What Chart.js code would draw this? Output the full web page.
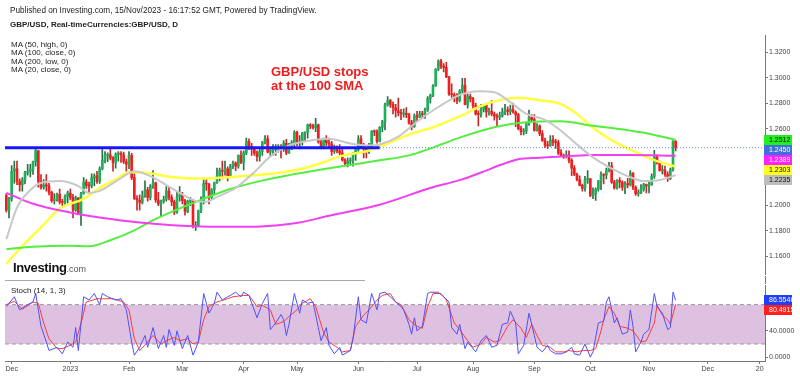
<!doctype html>
<html lang="en">
<head>
<meta charset="utf-8">
<title>GBP/USD daily</title>
<script src="https://cdn.jsdelivr.net/npm/chart.js"></script>
<style>
  body { margin: 0; background: #fff; font-family: "Liberation Sans", Arial, sans-serif; }
  #wrap { position: relative; width: 800px; height: 376px; overflow: hidden; background: #fff; }
  canvas { position: absolute; left: 0; }
  .t { position: absolute; white-space: nowrap; color: #222; line-height: 10px; }
</style>
</head>
<body>
<div id="wrap">
  <canvas id="priceChart" width="800" height="280" style="top:0"></canvas>
  <canvas id="stochChart" width="800" height="96" style="top:280px"></canvas>

  <div class="t" style="left:10px;top:6px;font-size:8.2px">Published on Investing.com, 15/Nov/2023 - 16:17:52 GMT, Powered by TradingView.</div>
  <div class="t" style="left:10px;top:20px;font-size:8px;font-weight:bold">GBP/USD, Real-timeCurrencies:GBP/USD, D</div>
  <div class="t" style="left:11px;top:41px;font-size:8px;line-height:8.4px">MA (50, high, 0)<br>MA (100, close, 0)<br>MA (200, low, 0)<br>MA (20, close, 0)</div>
  <div class="t" style="left:271px;top:65px;font-size:13px;line-height:14.4px;font-weight:bold;color:#f21b1b">GBP/USD stops<br>at the 100 SMA</div>
  <div class="t" style="left:13px;top:261px;line-height:12px"><span style="font-size:13px;font-weight:bold;letter-spacing:-0.4px;color:#111">Investing</span><span style="font-size:9px;color:#555">.com</span></div>
  <div class="t" style="left:11px;top:286px;font-size:8px">Stoch (14, 1, 3)</div>
  <div style="position:absolute;left:5px;top:280px;width:360px;height:1px;background:#aaa"></div>
  <div style="position:absolute;left:765px;top:276px;width:1px;height:8px;background:#777"></div>
</div>

<script>
// daily candles, 29 Nov 2022 .. 15 Nov 2023 (bar index 0..251)
const opens = [
  1.2075,1.1960,
  1.2050,1.2265,1.2285,1.2185,1.2160,1.2200,1.2255,1.2265,1.2280,1.2340,1.2425,1.2185,1.2140,1.2155,1.2150,1.2100,1.2035,1.2045,1.2085,1.2025,1.2020,1.2070,
  1.2095,1.2060,1.1960,1.2055,1.1935,1.2090,1.2180,1.2155,1.2150,1.2215,1.2230,1.2185,1.2285,1.2350,1.2390,1.2395,1.2370,1.2335,1.2400,1.2405,1.2395,1.2340,
  1.2320,1.2390,1.2215,1.2050,1.2040,1.2020,1.2070,1.2120,1.2060,1.2150,1.2175,1.2040,1.2010,1.2030,1.2045,1.2110,1.2060,1.2025,1.1945,1.2065,
  1.2080,1.2035,1.1950,1.2030,1.2035,1.1835,1.1840,1.1955,1.2035,1.2170,1.2165,1.2060,1.2120,1.2175,1.2230,1.2270,1.2265,1.2285,1.2230,1.2305,1.2330,1.2305,1.2390,
  1.2335,1.2410,1.2500,1.2460,1.2440,1.2410,1.2380,1.2420,1.2490,1.2520,1.2415,1.2430,1.2435,1.2440,1.2445,1.2440,1.2485,1.2410,1.2470,1.2490,
  1.2570,1.2490,1.2495,1.2565,1.2570,1.2630,1.2620,1.2610,1.2630,1.2495,1.2445,1.2510,1.2490,1.2480,1.2420,1.2445,1.2425,1.2410,1.2355,1.2325,1.2345,1.2350,1.2395,
  1.2435,1.2520,1.2450,1.2440,1.2430,1.2475,1.2580,1.2575,1.2500,1.2610,1.2650,1.2785,1.2820,1.2790,1.2765,1.2740,1.2725,1.2715,1.2720,1.2710,1.2645,1.2615,
  1.2700,1.2690,1.2715,1.2710,1.2745,1.2835,1.2860,1.2935,1.3065,1.3130,1.3090,1.3080,1.3005,1.2870,1.2865,1.2855,1.2820,1.2895,1.2940,1.2790,1.2850,
  1.2835,1.2780,1.2715,1.2710,1.2750,1.2785,1.2730,1.2735,1.2715,1.2700,1.2690,1.2700,1.2730,1.2745,1.2735,1.2750,1.2730,1.2710,1.2600,1.2575,1.2580,1.2640,1.2690,
  1.2670,1.2585,1.2620,1.2560,1.2505,1.2470,1.2465,1.2510,1.2495,1.2490,1.2410,1.2385,1.2380,1.2395,1.2350,1.2290,1.2240,1.2200,1.2155,1.2130,1.2200,
  1.2205,1.2075,1.2085,1.2125,1.2190,1.2240,1.2235,1.2275,1.2305,1.2180,1.2135,1.2195,1.2180,1.2140,1.2165,1.2160,1.2250,1.2140,1.2090,1.2100,1.2125,1.2160,
  1.2150,1.2160,1.2225,1.2380,1.2340,1.2270,1.2275,1.2240,1.2210,1.2280,1.2500
];
const highs = [
  1.2090,1.2060,
  1.2310,1.2345,1.2345,1.2205,1.2215,1.2265,1.2320,1.2320,1.2345,1.2446,1.2430,1.2240,1.2200,1.2240,1.2170,1.2110,1.2090,1.2095,1.2125,1.2045,1.2080,1.2110,
  1.2125,1.2085,1.2070,1.2060,1.2100,1.2215,1.2200,1.2180,1.2245,1.2245,1.2265,1.2300,1.2435,1.2420,1.2410,1.2450,1.2380,1.2410,1.2420,1.2420,1.2415,1.2360,
  1.2420,1.2405,1.2265,1.2075,1.2080,1.2110,1.2190,1.2140,1.2160,1.2270,1.2180,1.2100,1.2040,1.2070,1.2145,1.2140,1.2080,1.2040,1.2100,1.2145,
  1.2100,1.2045,1.2040,1.2060,1.2045,1.1870,1.1960,1.2065,1.2205,1.2205,1.2170,1.2130,1.2180,1.2290,1.2290,1.2345,1.2345,1.2300,1.2320,1.2345,1.2340,1.2395,1.2425,
  1.2425,1.2525,1.2520,1.2485,1.2450,1.2425,1.2440,1.2500,1.2545,1.2545,1.2440,1.2475,1.2475,1.2475,1.2475,1.2505,1.2515,1.2485,1.2505,1.2585,
  1.2580,1.2545,1.2570,1.2575,1.2635,1.2640,1.2635,1.2680,1.2635,1.2510,1.2525,1.2545,1.2525,1.2500,1.2470,1.2465,1.2475,1.2445,1.2365,1.2370,1.2370,1.2410,1.2445,
  1.2545,1.2545,1.2485,1.2450,1.2485,1.2585,1.2590,1.2590,1.2615,1.2665,1.2800,1.2850,1.2830,1.2810,1.2790,1.2840,1.2750,1.2755,1.2765,1.2720,1.2665,1.2715,
  1.2735,1.2735,1.2735,1.2760,1.2850,1.2870,1.2945,1.3070,1.3140,1.3143,1.3110,1.3120,1.3010,1.2950,1.2880,1.2875,1.2905,1.2995,1.2995,1.2870,1.2870,
  1.2845,1.2800,1.2740,1.2790,1.2790,1.2790,1.2760,1.2820,1.2730,1.2715,1.2730,1.2760,1.2790,1.2770,1.2785,1.2800,1.2740,1.2720,1.2620,1.2600,1.2645,1.2745,1.2710,
  1.2710,1.2640,1.2630,1.2585,1.2525,1.2500,1.2545,1.2545,1.2515,1.2510,1.2435,1.2400,1.2425,1.2425,1.2365,1.2310,1.2250,1.2230,1.2165,1.2225,1.2270,
  1.2210,1.2135,1.2135,1.2195,1.2260,1.2245,1.2290,1.2335,1.2335,1.2195,1.2200,1.2215,1.2190,1.2185,1.2210,1.2270,1.2255,1.2150,1.2120,1.2160,1.2170,1.2165,
  1.2185,1.2245,1.2430,1.2395,1.2345,1.2310,1.2305,1.2260,1.2290,1.2505,1.2505
];
const lows = [
  1.1945,1.1900,
  1.2030,1.2170,1.2160,1.2110,1.2110,1.2165,1.2235,1.2220,1.2240,1.2305,1.2140,1.2125,1.2125,1.2110,1.2080,1.2020,1.2010,1.2030,1.2010,1.1995,1.2000,1.2015,
  1.2040,1.1900,1.1950,1.1925,1.1840,1.2085,1.2130,1.2100,1.2135,1.2150,1.2170,1.2170,1.2275,1.2330,1.2340,1.2355,1.2265,1.2290,1.2345,1.2335,1.2325,1.2265,
  1.2285,1.2200,1.2045,1.1960,1.1960,1.2010,1.2060,1.2030,1.2040,1.2130,1.2020,1.1995,1.1915,1.2015,1.2030,1.2040,1.1995,1.1925,1.1935,1.2030,
  1.2010,1.1920,1.1940,1.1995,1.1820,1.1802,1.1830,1.1940,1.2010,1.2115,1.2010,1.2045,1.2085,1.2170,1.2190,1.2205,1.2235,1.2190,1.2225,1.2285,1.2270,1.2290,1.2325,
  1.2275,1.2395,1.2435,1.2390,1.2390,1.2345,1.2345,1.2390,1.2480,1.2410,1.2380,1.2390,1.2390,1.2415,1.2370,1.2420,1.2395,1.2405,1.2435,1.2460,
  1.2465,1.2440,1.2470,1.2500,1.2525,1.2600,1.2595,1.2575,1.2485,1.2440,1.2440,1.2465,1.2450,1.2390,1.2405,1.2410,1.2395,1.2345,1.2310,1.2300,1.2325,1.2305,1.2350,
  1.2420,1.2445,1.2370,1.2370,1.2405,1.2440,1.2545,1.2485,1.2495,1.2575,1.2590,1.2775,1.2765,1.2715,1.2690,1.2700,1.2670,1.2690,1.2685,1.2635,1.2590,1.2610,
  1.2660,1.2685,1.2680,1.2680,1.2735,1.2800,1.2850,1.2930,1.3055,1.3070,1.3045,1.3000,1.2860,1.2845,1.2810,1.2795,1.2810,1.2880,1.2785,1.2760,1.2810,
  1.2760,1.2705,1.2620,1.2690,1.2730,1.2690,1.2705,1.2700,1.2665,1.2615,1.2670,1.2690,1.2710,1.2705,1.2710,1.2720,1.2615,1.2590,1.2550,1.2550,1.2560,1.2625,1.2655,
  1.2580,1.2580,1.2545,1.2500,1.2450,1.2445,1.2460,1.2465,1.2445,1.2395,1.2380,1.2365,1.2370,1.2330,1.2230,1.2230,1.2190,1.2150,1.2110,1.2110,1.2170,
  1.2065,1.2050,1.2037,1.2110,1.2120,1.2165,1.2205,1.2260,1.2170,1.2125,1.2125,1.2135,1.2115,1.2090,1.2135,1.2150,1.2120,1.2075,1.2070,1.2090,1.2110,1.2095,
  1.2095,1.2155,1.2210,1.2320,1.2265,1.2245,1.2225,1.2185,1.2200,1.2265,1.2425
];
const closes = [
  1.1960,1.2050,
  1.2265,1.2285,1.2185,1.2160,1.2200,1.2255,1.2265,1.2280,1.2340,1.2425,1.2185,1.2140,1.2155,1.2150,1.2100,1.2035,1.2045,1.2085,1.2025,1.2020,1.2070,1.2095,
  1.2060,1.1960,1.2055,1.1935,1.2090,1.2180,1.2155,1.2150,1.2215,1.2230,1.2185,1.2285,1.2350,1.2390,1.2395,1.2370,1.2335,1.2400,1.2405,1.2395,1.2340,1.2320,
  1.2390,1.2215,1.2050,1.2040,1.2020,1.2070,1.2120,1.2060,1.2150,1.2175,1.2040,1.2010,1.2030,1.2045,1.2110,1.2060,1.2025,1.1945,1.2065,1.2080,
  1.2035,1.1950,1.2030,1.2035,1.1835,1.1840,1.1955,1.2035,1.2170,1.2165,1.2060,1.2120,1.2175,1.2230,1.2270,1.2265,1.2285,1.2230,1.2305,1.2330,1.2305,1.2390,1.2335,
  1.2410,1.2500,1.2460,1.2440,1.2410,1.2380,1.2420,1.2490,1.2520,1.2415,1.2430,1.2435,1.2440,1.2445,1.2440,1.2485,1.2410,1.2470,1.2490,1.2570,
  1.2490,1.2495,1.2565,1.2570,1.2630,1.2620,1.2610,1.2630,1.2495,1.2445,1.2510,1.2490,1.2480,1.2420,1.2445,1.2425,1.2410,1.2355,1.2325,1.2345,1.2350,1.2395,1.2435,
  1.2520,1.2450,1.2440,1.2430,1.2475,1.2580,1.2575,1.2500,1.2610,1.2650,1.2785,1.2820,1.2790,1.2765,1.2740,1.2725,1.2715,1.2720,1.2710,1.2645,1.2615,1.2700,
  1.2690,1.2715,1.2710,1.2745,1.2835,1.2860,1.2935,1.3065,1.3130,1.3090,1.3080,1.3005,1.2870,1.2865,1.2855,1.2820,1.2895,1.2940,1.2790,1.2850,1.2835,
  1.2780,1.2715,1.2710,1.2750,1.2785,1.2730,1.2735,1.2715,1.2700,1.2690,1.2700,1.2730,1.2745,1.2735,1.2750,1.2730,1.2710,1.2600,1.2575,1.2580,1.2640,1.2690,1.2670,
  1.2585,1.2620,1.2560,1.2505,1.2470,1.2465,1.2510,1.2495,1.2490,1.2410,1.2385,1.2380,1.2395,1.2350,1.2290,1.2240,1.2200,1.2155,1.2130,1.2200,1.2205,
  1.2075,1.2085,1.2125,1.2190,1.2240,1.2235,1.2275,1.2305,1.2180,1.2135,1.2195,1.2180,1.2140,1.2165,1.2160,1.2250,1.2140,1.2090,1.2100,1.2125,1.2160,1.2150,
  1.2160,1.2225,1.2380,1.2340,1.2270,1.2275,1.2240,1.2210,1.2280,1.2500,1.2450
];

// moving averages (bar index -> value)
const ma50At  = [0,5,13,20,29,35,42,46,54,61,73,86,101,110,118,125,136,145,152,160,166,171,178,185,192,201,208,214,220,226,233,243,251];
const ma50    = [1.1541,1.1657,1.1825,1.1972,1.2049,1.2134,1.2212,1.2258,1.2250,1.2223,1.2208,1.2223,1.2250,1.2281,1.2328,1.2382,1.2428,1.2500,1.2560,1.2610,1.2660,1.2705,1.2777,1.2823,1.2842,1.2819,1.2792,1.2715,1.2606,1.2521,1.2444,1.2353,1.2302];
const ma100At = [0,10,23,31,39,48,54,63,73,84,95,106,121,140,151,159,170,183,195,208,220,233,241,251];
const ma100   = [1.1654,1.1673,1.1681,1.1677,1.1724,1.1801,1.1871,1.1956,1.2041,1.2126,1.2188,1.2235,1.2289,1.2351,1.2390,1.2444,1.2529,1.2610,1.2650,1.2657,1.2622,1.2587,1.2560,1.2510];
const ma200At = [0,10,24,35,50,73,91,101,110,121,140,159,170,178,186,192,200,210,220,233,251];
const ma200   = [1.2096,1.2010,1.1941,1.1902,1.1863,1.1832,1.1829,1.1840,1.1863,1.1917,1.2003,1.2134,1.2196,1.2255,1.2320,1.2360,1.2372,1.2382,1.2392,1.2392,1.2387];
const ma20At  = [0,4,9,13,20,27,31,35,43,48,54,60,65,71,75,79,86,93,99,106,114,121,129,136,140,147,154,162,170,177,183,189,195,202,208,214,220,226,233,239,245,251];
const ma20    = [1.1732,1.1979,1.2118,1.2173,1.2188,1.2149,1.2095,1.2111,1.2212,1.2266,1.2227,1.2157,1.2095,1.2033,1.2026,1.2064,1.2134,1.2258,1.2382,1.2467,1.2506,1.2521,1.2483,1.2467,1.2475,1.2537,1.2653,1.2769,1.2862,1.2893,1.2885,1.2808,1.2715,1.2668,1.2583,1.2475,1.2374,1.2297,1.2227,1.2188,1.2196,1.2235];

// horizontal level and last price
const levelPrice = 1.2450;
const levelFrom = -0.5, levelTo = 140;
const lastPrice = 1.2450;

// stochastic (14,1,3)
const stochKAt = [0,3,5,8,10,11,13,15,16,19,21,23,25,26,27,29,31,33,35,36,38,41,43,45,47,48,50,52,53,55,57,59,60,61,63,64,66,68,70,72,74,76,78,79,81,83,84,86,88,89,91,94,96,98,99,101,103,104,105,106,108,110,111,113,115,117,118,120,121,123,125,126,129,130,132,133,135,137,139,140,142,144,146,148,149,151,152,153,154,156,158,159,162,164,166,167,169,170,172,173,176,178,180,182,184,186,188,189,191,192,194,196,198,199,201,203,204,206,208,210,212,213,215,217,219,220,222,224,225,226,228,229,231,233,234,235,236,238,239,241,243,244,246,248,249,250,251];
const stochK   = [77,92,72,80,84,97,47,23,10,15, 5,23,15,45,10,92,87,97,80,97, 92,87,89,72,23,3,15,33,15,45, 13,33,15,42,18,40,13,33,3,23, 97,67,82,99,87,92,94,99,92,99, 94,60,82,97,42,52,65,57,33,50, 97,67,87,82,84,45,25,45,18,5, 15,3,10,28,92,57,52,97,72,97, 99,92,84,77,72,50,35,60,40,47, 97,99,99,92,84,45,35,50,13,23, 8,25,33,15,18,50,52,70,52,5, 18,67,33,15,8,18,10,5,5,8, 15,5,3,20,0,8,52,55,84,92, 52,60,35,38,72,47,8,23,35,42, 97,77,67,42,45,99,86.55];
const stochDAt = [0,3,6,10,12,14,16,19,21,24,26,28,30,34,36,40,44,46,48,50,53,55,58,60,63,65,68,70,72,74,76,79,83,85,89,91,94,96,99,101,104,106,109,111,114,116,119,121,124,126,129,131,134,136,139,141,144,146,148,151,154,156,158,160,163,165,168,170,173,175,178,180,183,185,188,190,193,195,197,199,201,204,206,209,211,214,216,219,221,223,224,226,228,230,233,235,238,240,243,244,246,248,249,251];
const stochD   = [80,85,73,84,82,52,28,13,13,18, 23,52,84,89,89,89,84,72,28,10, 23,33,20,25,30,25,28,20,23,57, 77,84,89,92,94,94,77,79,72,50, 54,62,72,82,89,77,37,23,15,8, 10,47,64,72,87,94,97,84,80,57, 47,44,77,97,97,87,52,42,25,15, 20,30,23,25,47,57,44,30,50,33, 18,15,8,8,10,8,10,10,13,40, 57,77,67,47,44,40,23,25,52,79, 64,57,50,80.49];
const stochUpper = 80, stochLower = 20;

// axes
const priceTicks = [1.16, 1.18, 1.20, 1.26, 1.28, 1.30, 1.32];
const stochTicks = [0, 40];
const monthAt = [2, 24, 46, 66, 89, 109, 132, 154, 175, 198, 219, 241, 263, 282.5];
const monthNames = ['Dec', '2023', 'Feb', 'Mar', 'Apr', 'May', 'Jun', 'Jul', 'Aug', 'Sep', 'Oct', 'Nov', 'Dec', '20'];

// last-value tags on the right axis
const priceTagValues = [1.2512, 1.2450, 1.2389, 1.2303, 1.2235];
const stochTagValues = [86.5546, 80.4915];

const priceTagBg = ['#22ee22', '#3f6fdc', '#ff22ff', '#ffff22', '#bdbdbd'];
const priceTagFg = ['#111', '#fff', '#fff', '#111', '#111'];
const stochTagBg = ['#2040ff', '#ff2020'];
const stochTagFg = ['#fff', '#fff'];

const xMin = -0.5, xMax = 284.5;
const FONT = '"Liberation Sans", Arial, sans-serif';
Chart.defaults.font.family = FONT;
Chart.defaults.animation = false;

function pts(at, vals) {
  return at.map((x, k) => ({ x: x, y: vals[k] }));
}

function tagPlugin(id, values, bgs, fgs) {
  return {
    id: id,
    afterDraw(chart) {
      const ctx = chart.ctx;
      const ys = chart.scales.y;
      let prev = -1e9;
      ctx.save();
      ctx.font = '7px ' + FONT;
      ctx.textBaseline = 'middle';
      values.forEach((v, k) => {
        let py = Math.max(ys.getPixelForValue(v), prev + 10);
        prev = py;
        ctx.fillStyle = bgs[k];
        ctx.fillRect(ys.left - 1, Math.round(py - 5), 28, 10);
        ctx.fillStyle = fgs[k];
        ctx.fillText(v.toFixed(4), ys.left + 4, Math.round(py));
      });
      ctx.restore();
    }
  };
}

function maLine(at, vals, color, width) {
  return {
    type: 'line',
    data: pts(at, vals),
    borderColor: color,
    borderWidth: width,
    pointRadius: 0,
    cubicInterpolationMode: 'monotone',
    order: 2
  };
}

const bars = opens.map((o, i) => i);
const isUp = bars.map(i => closes[i] >= opens[i]);

new Chart(document.getElementById('priceChart'), {
  type: 'bar',
  data: {
    datasets: [
      {
        type: 'line',
        data: [{ x: levelFrom, y: levelPrice }, { x: levelTo, y: levelPrice }],
        borderColor: '#1616ff',
        borderWidth: 3,
        pointRadius: 0,
        order: 0
      },
      {
        type: 'line',
        data: [{ x: xMin, y: lastPrice }, { x: xMax, y: lastPrice }],
        borderColor: '#6b86f0',
        borderWidth: 1,
        borderDash: [1, 2],
        pointRadius: 0,
        order: 1
      },
      maLine(ma20At, ma20, '#c8c8c8', 2),
      maLine(ma200At, ma200, '#f040f0', 2),
      maLine(ma100At, ma100, '#55ee40', 2),
      maLine(ma50At, ma50, '#ffff40', 2.5),
      {
        data: bars.map(i => ({ x: i, y: [lows[i], highs[i]] })),
        backgroundColor: isUp.map(u => u ? '#2c6e44' : '#c62828'),
        barThickness: 1,
        grouped: false,
        order: 20
      },
      {
        data: bars.map(i => ({ x: i, y: [opens[i], closes[i]] })),
        backgroundColor: isUp.map(u => u ? '#1fb05a' : '#f41d1d'),
        barThickness: 2,
        minBarLength: 1,
        grouped: false,
        order: 19
      }
    ]
  },
  options: {
    responsive: false,
    layout: { padding: { left: 5, top: 35, right: 0, bottom: 2 } },
    plugins: { legend: { display: false }, tooltip: { enabled: false } },
    scales: {
      x: { type: 'linear', min: xMin, max: xMax, offset: false, display: false },
      y: {
        position: 'right',
        min: 1.14531,
        max: 1.33339,
        afterBuildTicks: s => { s.ticks = priceTicks.map(v => ({ value: v })); },
        afterFit: s => { s.width = 35; },
        ticks: { font: { size: 7 }, color: '#444', padding: 1, callback: v => v.toFixed(4) },
        grid: { drawOnChartArea: false, tickLength: 3, color: '#777' },
        border: { color: '#777' }
      }
    }
  },
  plugins: [tagPlugin('priceTags', priceTagValues, priceTagBg, priceTagFg)]
});

new Chart(document.getElementById('stochChart'), {
  type: 'line',
  data: {
    datasets: [
      {
        data: pts(stochKAt, stochK),
        borderColor: '#5050ff',
        borderWidth: 1,
        pointRadius: 0,
        order: 0
      },
      {
        data: pts(stochDAt, stochD),
        borderColor: '#ff3b3b',
        borderWidth: 1,
        pointRadius: 0,
        order: 1
      },
      {
        data: [{ x: xMin, y: stochUpper }, { x: xMax, y: stochUpper }],
        borderColor: '#999',
        borderWidth: 1,
        borderDash: [4, 3],
        pointRadius: 0,
        fill: false,
        order: 10
      },
      {
        data: [{ x: xMin, y: stochLower }, { x: xMax, y: stochLower }],
        borderColor: '#999',
        borderWidth: 1,
        borderDash: [4, 3],
        pointRadius: 0,
        fill: '-1',
        backgroundColor: '#dec1e1',
        order: 11
      }
    ]
  },
  options: {
    responsive: false,
    layout: { padding: { left: 5, top: 3, right: 0, bottom: 0 } },
    plugins: { legend: { display: false }, tooltip: { enabled: false } },
    scales: {
      x: {
        type: 'linear', min: xMin, max: xMax, offset: false,
        afterBuildTicks: s => { s.ticks = monthAt.map(v => ({ value: v })); },
        afterFit: s => { s.height = 15; },
        ticks: { autoSkip: false, maxRotation: 0, font: { size: 7 }, color: '#444', padding: 1,
                 callback: (v, i) => monthNames[i] },
        grid: { drawOnChartArea: false, tickLength: 3, color: '#777' },
        border: { color: '#777' }
      },
      y: {
        position: 'right',
        min: -5.93,
        max: 109.63,
        afterBuildTicks: s => { s.ticks = stochTicks.map(v => ({ value: v })); },
        afterFit: s => { s.width = 35; },
        ticks: { font: { size: 7 }, color: '#444', padding: 1, callback: v => v.toFixed(4) },
        grid: { drawOnChartArea: false, tickLength: 3, color: '#777' },
        border: { color: '#777' }
      }
    }
  },
  plugins: [tagPlugin('stochTags', stochTagValues, stochTagBg, stochTagFg)]
});
</script>
</body>
</html>
